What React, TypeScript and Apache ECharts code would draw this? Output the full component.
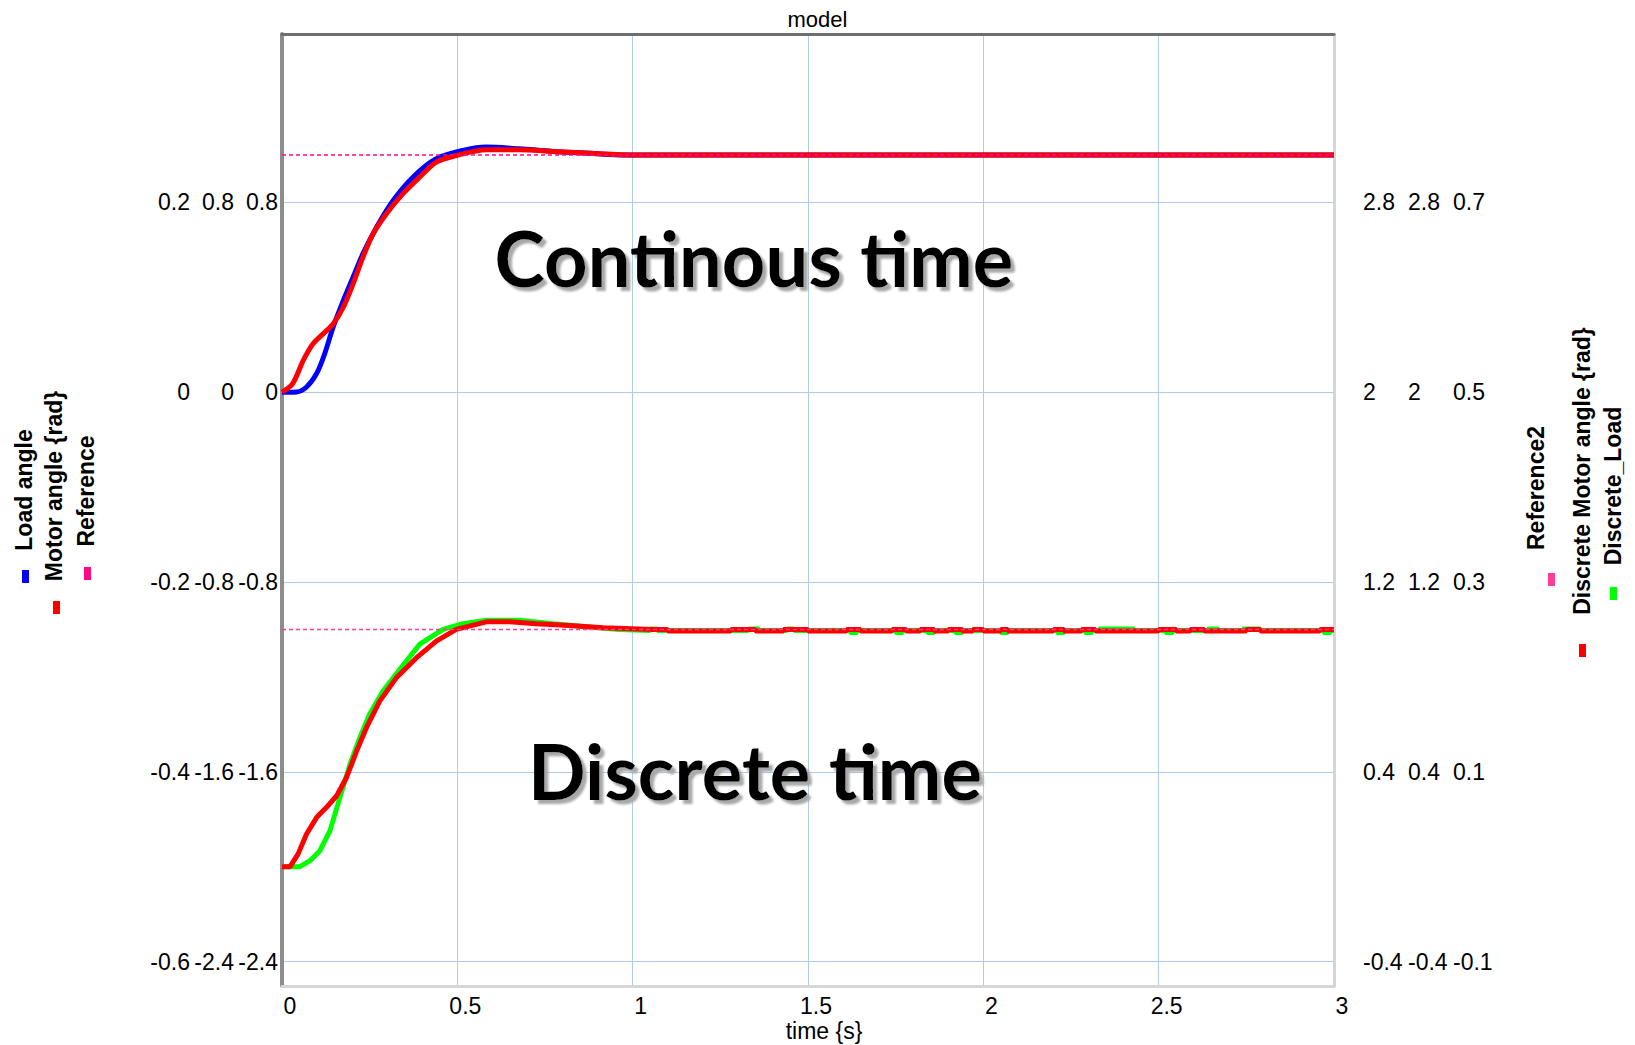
import React, { useEffect, useRef } from "react";
import * as echarts from "echarts";

// ---------- data ----------
const timeTicks = [0, 0.5, 1, 1.5, 2, 2.5, 3];

const loadTicks = [-0.6, -0.4, -0.2, 0, 0.2];
const motorTicks = [-2.4, -1.6, -0.8, 0, 0.8];
const refTicks = [-2.4, -1.6, -0.8, 0, 0.8];
const ref2Ticks = [-0.4, 0.4, 1.2, 2, 2.8];
const dMotorTicks = [-0.4, 0.4, 1.2, 2, 2.8];
const dLoadTicks = [-0.1, 0.1, 0.3, 0.5, 0.7];

const leftNames = ["Load angle", "Motor angle {rad}", "Reference"];
const rightNames = ["Reference2", "Discrete Motor angle {rad}", "Discrete_Load"];

// continuous time
const loadAngle: number[][] = [
  [0, 0], [0.042, 0.0003], [0.07, 0.0055], [0.099, 0.0198], [0.122, 0.0408],
  [0.146, 0.0688], [0.175, 0.0968], [0.203, 0.1215], [0.231, 0.146], [0.27, 0.174],
  [0.317, 0.202], [0.374, 0.2268], [0.44, 0.246], [0.516, 0.2548], [0.583, 0.2583],
  [0.677, 0.2565], [0.772, 0.2538], [0.867, 0.252], [0.962, 0.25], [3, 0.25],
];
const motorAngle: number[][] = [
  [0, 0], [0.03, 0.035], [0.061, 0.135], [0.089, 0.205], [0.118, 0.247],
  [0.146, 0.289], [0.175, 0.359], [0.203, 0.458], [0.231, 0.57], [0.26, 0.668],
  [0.298, 0.752], [0.345, 0.837], [0.393, 0.907], [0.44, 0.97], [0.497, 0.998],
  [0.583, 1.022], [0.677, 1.022], [0.772, 1.015], [0.867, 1.008], [1.01, 1.0], [3, 1.0],
];
const reference: number[][] = [[0, 1], [3, 1]];

// discrete time
const discreteLoad: number[][] = [
  [0, 0], [0.051, 0], [0.08, 0.0063], [0.108, 0.0168], [0.137, 0.038],
  [0.165, 0.073], [0.194, 0.108], [0.222, 0.136], [0.25, 0.161], [0.288, 0.185],
  [0.336, 0.208], [0.393, 0.2345], [0.459, 0.25], [0.516, 0.256], [0.583, 0.2598],
  [0.677, 0.2598], [0.772, 0.256], [0.867, 0.2528], [0.962, 0.25],
  [1.05, 0.2488], [1.05, 0.2505], [1.07, 0.2505], [1.07, 0.2488],
  [1.33, 0.2488], [1.33, 0.2505], [1.36, 0.2505], [1.36, 0.2488],
  [1.44, 0.2488], [1.44, 0.2505], [1.46, 0.2505], [1.46, 0.2488],
  [1.62, 0.2488], [1.62, 0.2468], [1.64, 0.2468], [1.64, 0.2488],
  [1.75, 0.2488], [1.75, 0.2468], [1.77, 0.2468], [1.77, 0.2488],
  [1.84, 0.2488], [1.84, 0.2468], [1.86, 0.2468], [1.86, 0.2488],
  [1.92, 0.2488], [1.92, 0.2468], [1.94, 0.2468], [1.94, 0.2488],
  [2.05, 0.2488], [2.05, 0.2468], [2.07, 0.2468], [2.07, 0.2488],
  [2.21, 0.2488], [2.21, 0.2468], [2.23, 0.2468], [2.23, 0.2488],
  [2.29, 0.2488], [2.29, 0.2468], [2.31, 0.2468], [2.31, 0.2488],
  [2.33, 0.2488], [2.33, 0.2505], [2.43, 0.2505], [2.43, 0.2488],
  [2.52, 0.2488], [2.52, 0.2468], [2.54, 0.2468], [2.54, 0.2488],
  [2.64, 0.2488], [2.64, 0.2505], [2.67, 0.2505], [2.67, 0.2488],
  [2.74, 0.2488], [2.74, 0.2505], [2.79, 0.2505], [2.79, 0.2488],
  [2.97, 0.2488], [2.97, 0.2468], [2.99, 0.2468], [2.99, 0.2488], [3, 0.2488],
];
const discreteMotor: number[][] = [
  [0, 0], [0.023, 0], [0.046, 0.054], [0.07, 0.138], [0.099, 0.208],
  [0.127, 0.25], [0.156, 0.299], [0.184, 0.376], [0.213, 0.488], [0.241, 0.587],
  [0.279, 0.699], [0.326, 0.796], [0.383, 0.88], [0.44, 0.951], [0.497, 1.0],
  [0.583, 1.032], [0.649, 1.032], [0.725, 1.024], [0.82, 1.017], [0.915, 1.007],
  [1.057, 1.0], [1.1, 1.0], [1.1, 0.993], [1.28, 0.993], [1.28, 1.0], [1.35, 1.0],
  [1.35, 0.993], [1.43, 0.993], [1.43, 1.0], [1.5, 1.0], [1.5, 0.993], [1.61, 0.993],
  [1.61, 1.0], [1.65, 1.0], [1.65, 0.993], [1.74, 0.993], [1.74, 1.0], [1.78, 1.0],
  [1.78, 0.993], [1.82, 0.993], [1.82, 1.0], [1.86, 1.0], [1.86, 0.993], [1.9, 0.993],
  [1.9, 1.0], [1.94, 1.0], [1.94, 0.993], [1.97, 0.993], [1.97, 1.0], [2.0, 1.0],
  [2.0, 0.993], [2.05, 0.993], [2.05, 1.0], [2.07, 1.0], [2.07, 0.993], [2.2, 0.993],
  [2.2, 1.0], [2.23, 1.0], [2.23, 0.993], [2.28, 0.993], [2.28, 1.0], [2.32, 1.0],
  [2.32, 0.993], [2.5, 0.993], [2.5, 1.0], [2.55, 1.0], [2.55, 0.993], [2.59, 0.993],
  [2.59, 1.0], [2.63, 1.0], [2.63, 0.993], [2.75, 0.993], [2.75, 1.0], [2.79, 1.0],
  [2.79, 0.993], [2.96, 0.993], [2.96, 1.0], [3, 1.0],
];
const reference2: number[][] = [[0, 1], [3, 1]];

// ---------- styling ----------
const FONT = "Liberation Sans";
const BLUE = "#0000ff";
const RED = "#ff0000";
const GREEN = "#00ff00";
const PINK1 = "#ff0a84";
const PINK2 = "#ff3c96";
const GRID_C = "#aecbec";

const fmt = (v: number) => {
  const r = Math.round(v * 10) / 10;
  return String(r === 0 ? 0 : r);
};

function yAx(position: string, offset: number, min: number, max: number, ticks: number[], opts: any = {}) {
  return {
    type: "value",
    position,
    offset,
    min,
    max,
    axisLine: opts.line ? { show: true, onZero: false, lineStyle: opts.line } : { show: false },
    axisTick: { show: false, customValues: ticks },
    axisLabel: {
      customValues: ticks,
      margin: position === "left" ? 4 : 29,
      fontSize: 23,
      fontFamily: FONT,
      color: "#000",
      padding: [7, 0, 0, 0],
      formatter: fmt,
    },
    splitLine: opts.split
      ? { show: true, lineStyle: { color: GRID_C, width: 1 } }
      : { show: false },
  };
}

function vLegend(name: string, cx: number, cy: number, mx: number, my: number, color: string) {
  return [
    {
      type: "text",
      x: cx,
      y: cy,
      rotation: Math.PI / 2,
      style: {
        text: name,
        fill: "#000",
        font: `bold 23px "${FONT}"`,
        align: "center",
        verticalAlign: "middle",
        textAlign: "center",
        textVerticalAlign: "middle",
      },
    },
    { type: "rect", shape: { x: mx, y: my, width: 7, height: 13 }, style: { fill: color } },
  ];
}

function bigText(text: string, cx: number, cy: number) {
  return {
    type: "text",
    x: cx,
    y: cy,
    z: 50,
    style: {
      text,
      fill: "#000",
      font: 'bold 76px "Lato"',
      align: "center",
      verticalAlign: "middle",
      textAlign: "center",
      textVerticalAlign: "middle",
      textShadowColor: "#a8a8a8",
      textShadowBlur: 2,
      textShadowOffsetX: 4,
      textShadowOffsetY: 4,
      shadowColor: "#a8a8a8",
      shadowBlur: 2,
      shadowOffsetX: 4,
      shadowOffsetY: 4,
    },
  };
}

export default function App() {
  const ref = useRef<HTMLDivElement>(null);
  useEffect(() => {
    if (!ref.current) return;
    const chart = echarts.init(ref.current, null, { renderer: "svg" });
    const motorMin = -2.503, motorMax = 1.51;
    const lineSeries = (name: string, yi: number, data: number[][], color: string, width: number, extra: any = {}) => ({
      name,
      type: "line",
      xAxisIndex: 0,
      yAxisIndex: yi,
      data,
      symbol: "none",
      showSymbol: false,
      lineStyle: { color, width, ...(extra.lineStyle || {}) },
      itemStyle: { color },
      smooth: extra.smooth ?? false,
      z: extra.z ?? 2,
    });
    chart.setOption({
      animation: false,
      backgroundColor: "#ffffff",
      textStyle: { fontFamily: FONT },
      title: {
        text: "model",
        left: "center",
        top: 3,
        textStyle: { fontFamily: FONT, fontSize: 22, fontWeight: "normal", color: "#000" },
      },
      grid: { left: 282, right: 301, top: 34, bottom: 59, containLabel: false, outerBoundsMode: "none" },
      xAxis: [
        {
          type: "value",
          position: "bottom",
          min: timeTicks[0],
          max: timeTicks[timeTicks.length - 1],
          interval: 0.5,
          name: "time {s}",
          nameLocation: "middle",
          nameGap: 33,
          nameMoveOverlap: false,
          nameTextStyle: { fontFamily: FONT, fontSize: 23, color: "#000", padding: [0, 0, 0, 32] },
          axisLine: { show: true, onZero: false, lineStyle: { color: "#d6d6d6", width: 3 } },
          axisTick: { show: false },
          axisLabel: {
            fontSize: 23,
            fontFamily: FONT,
            color: "#000",
            margin: 8,
            padding: [0, 0, 0, 16],
            formatter: (v: number) => fmt(v),
          },
          splitLine: { show: true, lineStyle: { color: GRID_C, width: 1 } },
        },
        {
          type: "value",
          position: "top",
          min: 0,
          max: 3,
          interval: 0.5,
          axisLine: { show: true, onZero: false, lineStyle: { color: "#6e6e6e", width: 3 } },
          axisTick: { show: false },
          axisLabel: { show: false },
          splitLine: { show: false },
        },
      ],
      yAxis: [
        yAx("left", 88, motorMin / 4, motorMax / 4, loadTicks),
        yAx("left", 44, motorMin, motorMax, motorTicks),
        yAx("left", 0, motorMin, motorMax, refTicks, { line: { color: "#8c8c8c", width: 4 }, split: true }),
        yAx("right", 0, motorMin + 2, motorMax + 2, ref2Ticks, { line: { color: "#d6d6d6", width: 3 } }),
        yAx("right", 45, motorMin + 2, motorMax + 2, dMotorTicks),
        yAx("right", 90, 0.5 + motorMin / 4, 0.5 + motorMax / 4, dLoadTicks),
      ],
      series: [
        lineSeries(leftNames[0], 0, loadAngle, BLUE, 5, { smooth: 0.3, z: 2 }),
        lineSeries(leftNames[1], 1, motorAngle, RED, 5, { smooth: 0.3, z: 3 }),
        lineSeries(leftNames[2], 2, reference, PINK1, 1.5, { lineStyle: { type: [4, 3] }, z: 4 }),
        lineSeries(rightNames[2], 5, discreteLoad, GREEN, 5, { z: 2 }),
        lineSeries(rightNames[1], 4, discreteMotor, RED, 5, { z: 3 }),
        lineSeries(rightNames[0], 3, reference2, PINK2, 1.5, { lineStyle: { type: [4, 3] }, z: 4 }),
      ],
      graphic: [
        ...vLegend(leftNames[0], 24, 490, 22, 570, BLUE),
        ...vLegend(leftNames[1], 54, 486, 53, 601, RED),
        ...vLegend(leftNames[2], 86, 491, 84, 567, PINK1),
        ...vLegend(rightNames[0], 1536, 488, 1548, 573, PINK2),
        ...vLegend(rightNames[1], 1582, 471, 1579, 644, RED),
        ...vLegend(rightNames[2], 1613, 486, 1610, 587, GREEN),
        bigText("Continous time", 754, 257),
        bigText("Discrete time", 755, 770),
      ],
    });
    return () => chart.dispose();
  }, []);
  return (
    <div
      ref={ref}
      style={{ position: "absolute", left: 0, top: 0, width: 1635, height: 1045, background: "#fff" }}
    />
  );
}
